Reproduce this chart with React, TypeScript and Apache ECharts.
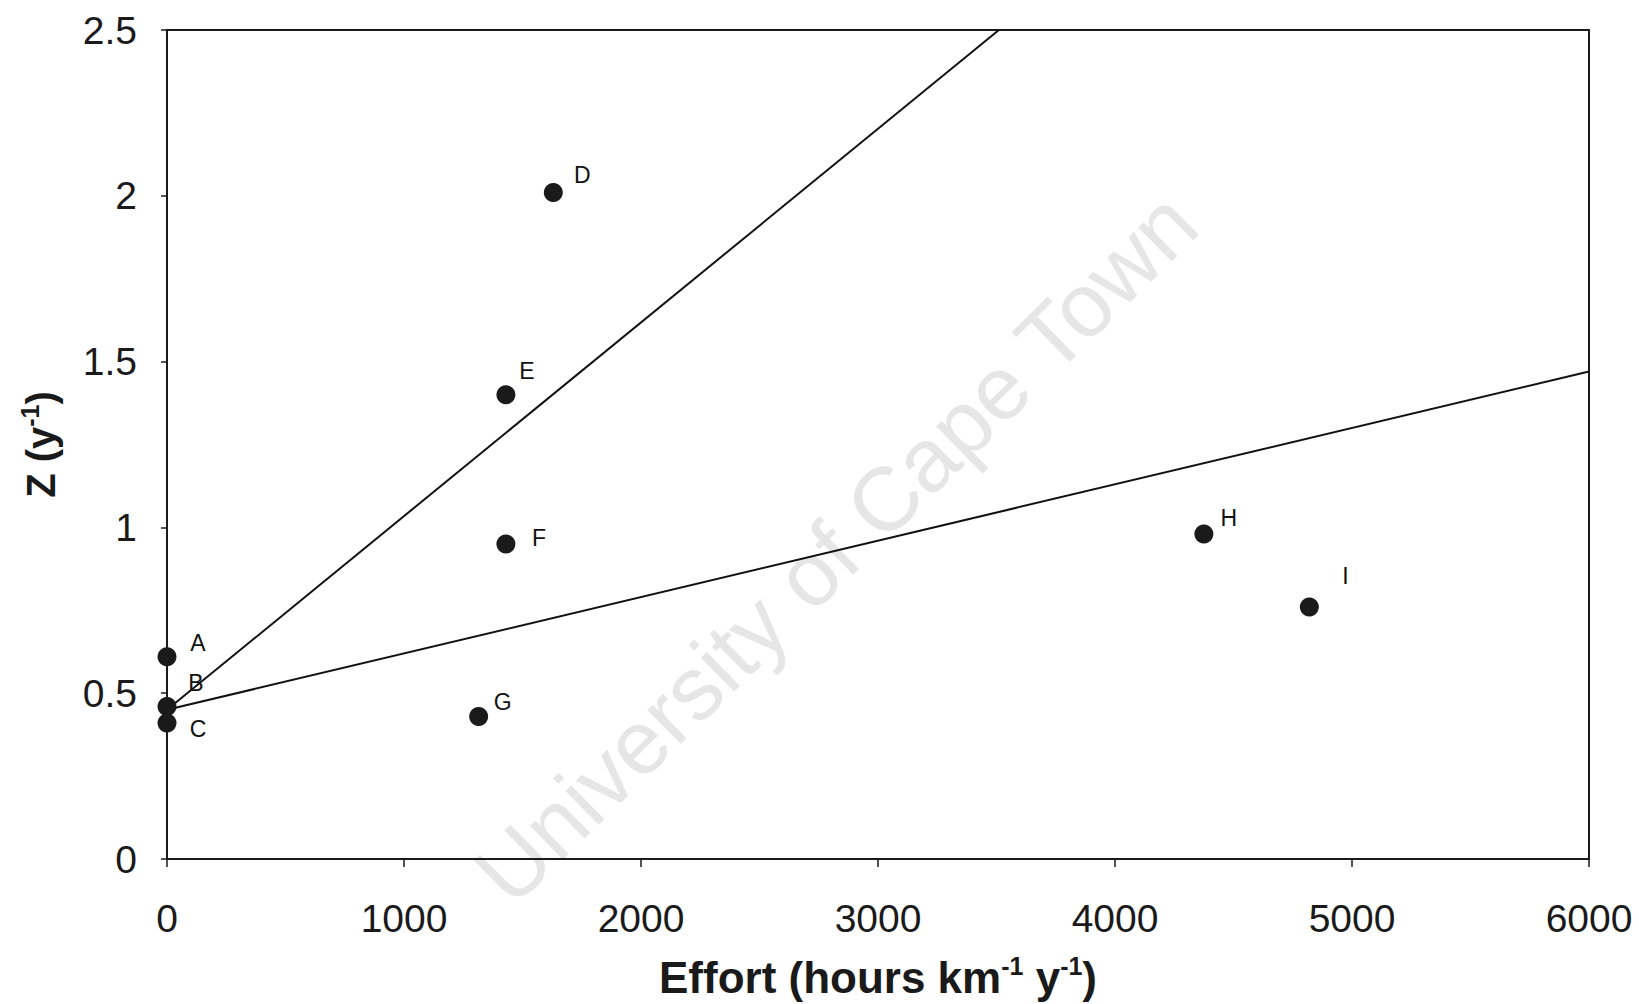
import React, { useEffect, useRef } from "react";
import * as echarts from "echarts";

// Site labels and their coordinates (Effort, Z)
const siteNames = ["A", "B", "C", "D", "E", "F", "G", "H", "I"];
const effortValues = [0, 0, 0, 1630, 1430, 1430, 1315, 4375, 4820];
const zValues = [0.61, 0.46, 0.41, 2.01, 1.4, 0.95, 0.43, 0.98, 0.76];

// Two fitted lines: [effort, Z] endpoints
const steepLine = [
  [0, 0.45],
  [3510, 2.5],
];
const shallowLine = [
  [0, 0.45],
  [6000, 1.47],
];

// Label placement relative to each point (style only)
const labelOffsets: Record<string, [number, number]> = {
  A: [31, -14],
  B: [29, -23],
  C: [31, 6],
  D: [29, -17],
  E: [21, -24],
  F: [33, -6],
  G: [24, -14],
  H: [25, -16],
  I: [36, -31],
};

const FONT = "'Liberation Sans', Arial, Helvetica, sans-serif";
const INK = "#1a1a1a";

export default function App() {
  const ref = useRef<HTMLDivElement>(null);

  useEffect(() => {
    if (!ref.current) return;
    const chart = echarts.init(ref.current, undefined, { renderer: "svg" });

    const points = siteNames.map((name, i) => ({
      name,
      value: [effortValues[i], zValues[i]],
      label: { offset: labelOffsets[name] },
    }));

    const supStyle = {
      fontSize: 25,
      fontWeight: "bold" as const,
      fontFamily: FONT,
      color: INK,
      verticalAlign: "top" as const,
      lineHeight: 25,
    };
    const mainStyle = {
      fontSize: 44,
      fontWeight: "bold" as const,
      fontFamily: FONT,
      color: INK,
      lineHeight: 48,
    };

    chart.setOption({
      animation: false,
      backgroundColor: "#ffffff",
      grid: {
        left: 167,
        right: 50,
        top: 30,
        bottom: 143,
        show: true,
        borderColor: INK,
        borderWidth: 2,
      },
      graphic: [
        {
          type: "text",
          x: 836,
          y: 548,
          rotation: (44.5 * Math.PI) / 180,
          z: 0,
          silent: true,
          style: {
            text: "University of Cape Town",
            fontSize: 90,
            fontFamily: FONT,
            fill: "#e6e6e6",
            align: "center",
            verticalAlign: "middle",
          },
        },
      ],
      xAxis: {
        type: "value",
        min: 0,
        max: 6000,
        interval: 1000,
        name: "{m|Effort (hours km}{s|-1}{m| y}{s|-1}{m|)}",
        nameLocation: "middle",
        nameGap: 94,
        nameTextStyle: {
          rich: { m: mainStyle, s: supStyle },
        },
        axisLine: { show: true, lineStyle: { color: INK, width: 2 } },
        axisTick: { show: true, inside: false, length: 8, lineStyle: { color: INK, width: 1.5 } },
        axisLabel: {
          margin: 40,
          fontSize: 39,
          fontFamily: FONT,
          color: INK,
          formatter: (v: number) => String(v),
        },
        splitLine: { show: false },
      },
      yAxis: {
        type: "value",
        min: 0,
        max: 2.5,
        interval: 0.5,
        name: "{m|Z (y}{s|-1}{m|)}",
        nameLocation: "middle",
        nameGap: 102,
        nameRotate: 90,
        nameTextStyle: {
          rich: { m: { ...mainStyle, fontSize: 40 }, s: supStyle },
        },
        axisLine: { show: true, lineStyle: { color: INK, width: 2 } },
        axisTick: { show: true, inside: false, length: 6, lineStyle: { color: INK, width: 1.5 } },
        axisLabel: {
          margin: 30,
          fontSize: 39,
          fontFamily: FONT,
          color: INK,
          formatter: (v: number) => String(v),
        },
        splitLine: { show: false },
      },
      series: [
        {
          type: "line",
          data: steepLine,
          symbol: "none",
          lineStyle: { color: "#111", width: 2 },
          z: 3,
        },
        {
          type: "line",
          data: shallowLine,
          symbol: "none",
          lineStyle: { color: "#111", width: 2 },
          z: 3,
        },
        {
          type: "scatter",
          data: points,
          symbol: "circle",
          symbolSize: 19,
          itemStyle: { color: "#1a1a1a", opacity: 1 },
          z: 4,
          label: {
            show: true,
            position: "inside",
            formatter: "{b}",
            fontSize: 23,
            fontFamily: FONT,
            color: "#111",
          },
        },
      ],
    });

    return () => chart.dispose();
  }, []);

  return (
    <div
      ref={ref}
      style={{ position: "fixed", left: 0, top: 0, width: 1639, height: 1004, background: "#fff" }}
    />
  );
}
